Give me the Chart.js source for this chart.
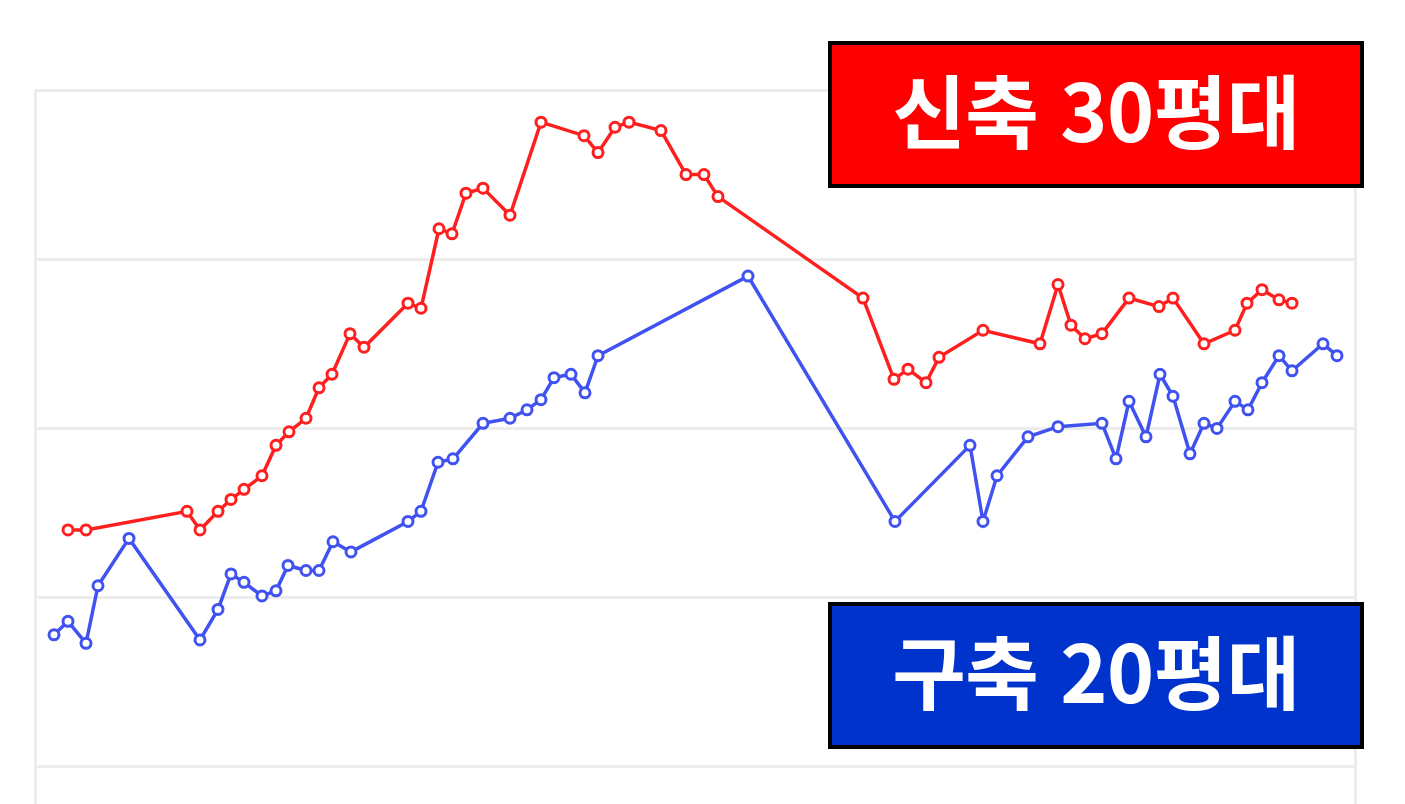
<!DOCTYPE html>
<html lang="ko">
<head>
<meta charset="utf-8">
<title>신축 30평대 / 구축 20평대</title>
<script src="https://cdn.jsdelivr.net/npm/chart.js@4.4.1/dist/chart.umd.min.js"></script>
<style>
  html, body { margin: 0; padding: 0; background: #fff; overflow: hidden; }
  body { width: 1405px; height: 804px; position: relative; }
  #wrap { position: absolute; left: 0; top: 0; width: 1405px; height: 950px; }
  .tag {
    position: absolute; left: 828px; width: 528px; height: 139px;
    border: 4px solid #000;
    color: #fff; text-align: center;
    font-family: "Noto Sans CJK KR", "Noto Sans", sans-serif;
    font-weight: 700; font-size: 80px; line-height: 139px;
    letter-spacing: -0.5px;
  }
  .tag span { display: inline-block; transform: translateY(-7px); }
  #tagNew { top: 41px; background: #ff0000; }
  #tagOld { top: 602px; background: #0033cc; }
</style>
</head>
<body>
<div id="wrap"><canvas id="priceChart"></canvas></div>
<div class="tag" id="tagNew"><span>신축 30평대</span></div>
<div class="tag" id="tagOld"><span>구축 20평대</span></div>

<script>
// 시점 (x) 과 가격 지수 (y), 그림에서 읽은 값
const newX = [3.3, 5.1, 15.2, 16.5, 18.3, 19.6, 20.9, 22.7, 24.1, 25.4, 27.1, 28.4, 29.7, 31.5, 32.9,
  37.3, 38.6, 40.4, 41.7, 43.1, 44.8, 47.5, 50.6, 54.9, 56.3, 58.0, 59.4, 62.6, 65.1, 66.9, 68.3,
  82.8, 85.9, 87.3, 89.1, 90.4, 94.8, 100.5, 102.3, 103.6, 105.0, 106.7, 109.4, 112.4, 113.8,
  116.9, 120.0, 121.2, 122.7, 124.4, 125.7];
const newY = [14.0, 14.0, 15.1, 14.0, 15.1, 15.8, 16.4, 17.2, 19.0, 19.8, 20.6, 22.4, 23.2, 25.6, 24.8,
  27.4, 27.1, 31.8, 31.5, 33.9, 34.2, 32.6, 38.1, 37.3, 36.3, 37.8, 38.1, 37.6, 35.0, 35.0, 33.7,
  27.7, 22.9, 23.5, 22.7, 24.2, 25.8, 25.0, 28.5, 26.1, 25.3, 25.6, 27.7, 27.2, 27.7,
  25.0, 25.8, 27.4, 28.2, 27.6, 27.4];

const oldX = [1.9, 3.3, 5.1, 6.3, 9.4, 16.5, 18.3, 19.6, 20.9, 22.7, 24.1, 25.3, 27.1, 28.4, 29.8, 31.6,
  37.3, 38.6, 40.3, 41.8, 44.8, 47.5, 49.2, 50.6, 51.9, 53.6, 55.0, 56.3, 71.3,
  86.0, 93.5, 94.8, 96.2, 99.3, 102.3, 106.7, 108.1, 109.4, 111.1, 112.5, 113.8, 115.5, 116.9,
  118.2, 120.0, 121.3, 122.7, 124.4, 125.7, 128.8, 130.2];
const oldY = [7.8, 8.6, 7.3, 10.7, 13.5, 7.5, 9.3, 11.4, 10.9, 10.1, 10.4, 11.9, 11.6, 11.6, 13.3, 12.7,
  14.5, 15.1, 18.0, 18.2, 20.3, 20.6, 21.1, 21.7, 23.0, 23.2, 22.1, 24.3, 29.0,
  14.5, 19.0, 14.5, 17.2, 19.5, 20.1, 20.3, 18.2, 21.6, 19.5, 23.2, 21.9, 18.5, 20.3,
  20.0, 21.6, 21.1, 22.7, 24.3, 23.4, 25.0, 24.3];

const yTicks = [-10, 0, 10, 20, 30, 40];
const xEdges = [0, 132];

const pts = (xs, ys) => xs.map((x, i) => ({ x, y: ys[i] }));

function lineSet(label, data, color) {
  return {
    label, data,
    borderColor: color,
    borderWidth: 3.5,
    pointRadius: 5,
    pointBorderWidth: 3,
    pointBackgroundColor: '#fff',
    pointBorderColor: color,
    tension: 0,
  };
}

const gridStyle = { color: '#ececec', lineWidth: 3, drawTicks: false };

new Chart(document.getElementById('priceChart').getContext('2d'), {
  type: 'line',
  data: {
    datasets: [
      lineSet('신축 30평대', pts(newX, newY), '#ff1f1f'),
      lineSet('구축 20평대', pts(oldX, oldY), '#4052f0'),
    ],
  },
  options: {
    responsive: true,
    maintainAspectRatio: false,
    animation: false,
    layout: { padding: { top: 90, left: 35, right: 50, bottom: 14 } },
    plugins: { legend: { display: false }, tooltip: { enabled: false } },
    scales: {
      x: {
        type: 'linear', min: xEdges[0], max: xEdges[1],
        grid: gridStyle, border: { display: false },
        ticks: { display: false },
        afterBuildTicks: s => { s.ticks = xEdges.map(v => ({ value: v })); },
      },
      y: {
        min: yTicks[0], max: yTicks[yTicks.length - 1],
        grid: gridStyle, border: { display: false },
        ticks: { display: false },
        afterBuildTicks: s => { s.ticks = yTicks.map(v => ({ value: v })); },
      },
    },
  },
});
</script>
</body>
</html>
